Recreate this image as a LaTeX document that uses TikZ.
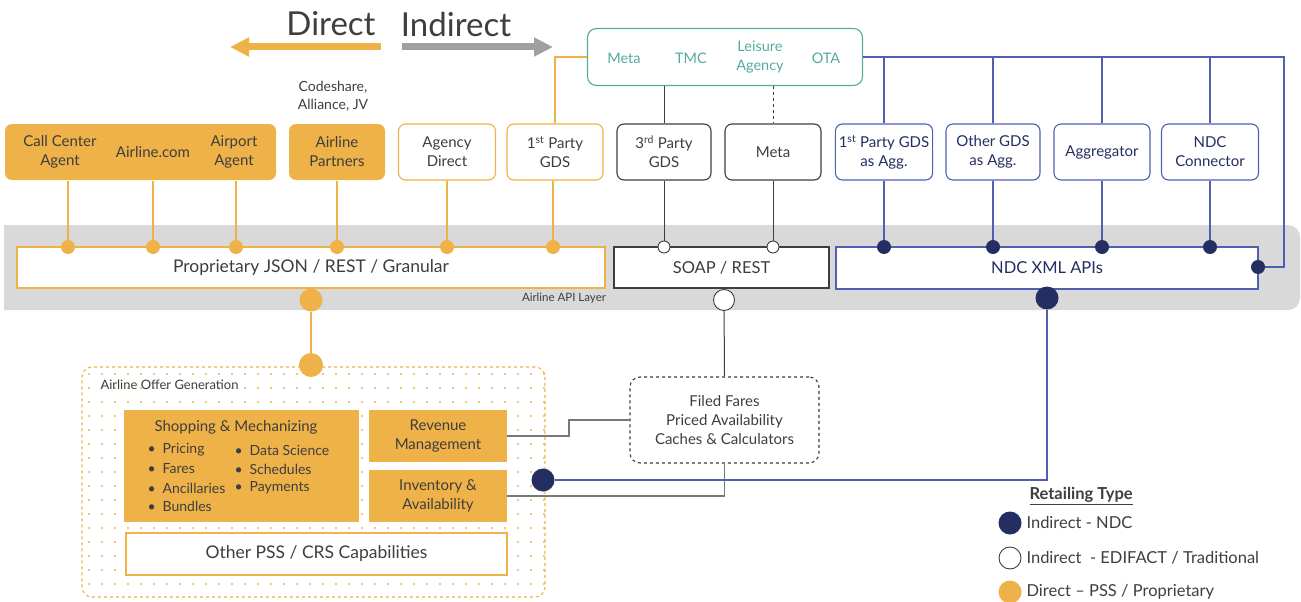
\documentclass[tikz,border=0pt]{standalone}
\usepackage{fontspec}
\setmainfont{Lato}
\usetikzlibrary{arrows.meta}
\definecolor{dirorange}{RGB}{238,178,72}
\definecolor{ndcnavy}{RGB}{36,46,96}
\definecolor{ndcblue}{RGB}{78,96,176}
\definecolor{metateal}{RGB}{84,170,158}
\definecolor{bandgray}{RGB}{217,217,217}
\definecolor{inkgray}{RGB}{62,62,62}
\definecolor{arrowgray}{RGB}{160,160,160}
\definecolor{cachegray}{RGB}{120,120,120}
\newcommand{\fsz}[2]{\fontsize{#1}{#2}\selectfont}
\tikzset{direct/.style={draw=dirorange, line width=1.1pt}}
\tikzset{indirect/.style={draw=inkgray, line width=1pt}}
\tikzset{ndc/.style={draw=ndcblue, line width=1.1pt}}
\tikzset{cache/.style={draw=cachegray, line width=1.6pt}}
\tikzset{channel/.style={rounded corners=7pt, line width=1.1pt, minimum height=56pt, align=center}}
\tikzset{pdot/.style={circle, fill=dirorange, inner sep=0pt, minimum size=14pt}}
\tikzset{ndot/.style={circle, fill=ndcnavy, inner sep=0pt, minimum size=14pt}}
\tikzset{wdot/.style={circle, fill=white, draw=inkgray, line width=0.9pt, inner sep=0pt, minimum size=12pt}}

\begin{document}
\begin{tikzpicture}[x=1pt, y=-1pt]
	% Default action for each node
	\tikzstyle{every node}=[text=inkgray, font=\fsz{15}{19}];
	\useasboundingbox (0,0) rectangle (1301,602);

	% Direct / Indirect
	\node[font=\fsz{33}{37}] (direct label) at (331,24) {Direct};
	\node[font=\fsz{33}{37}] (indirect label) at (456,24) {Indirect};
	\coordinate (direct tail) at (381,47);		\coordinate (direct tip) at (230,47);
	\coordinate (indirect tail) at (402,47);	\coordinate (indirect tip) at (553,47);
	\draw[line width=7pt, dirorange, -{Triangle[length=19pt,width=18pt]}] (direct tail) -- (direct tip);
	\draw[line width=7pt, arrowgray, -{Triangle[length=19pt,width=18pt]}] (indirect tail) -- (indirect tip);

	% Agencies
	\node[draw=metateal, rounded corners=9pt, line width=1.1pt, minimum width=275pt, minimum height=57pt] (agencies) at (725,57) {};
	\node[text=metateal, font=\fsz{14.5}{19}] (meta) at (624,58) {Meta};
	\node[text=metateal, font=\fsz{14.5}{19}] (tmc) at (691,58) {TMC};
	\node[text=metateal, font=\fsz{14.5}{19}, align=center] (leisure) at (760,57) {Leisure\\Agency};
	\node[text=metateal, font=\fsz{14.5}{19}] (ota) at (826,58) {OTA};

	% Direct channels
	\node[font=\fsz{14}{18}, align=center] (codeshare) at (333,96) {Codeshare,\\Alliance, JV};
	\node[channel, fill=dirorange, minimum width=271pt] (dirgroup) at (140.5,152) {};
	\node[align=center] (callcenter) at (60,152) {Call Center\\Agent};
	\node (airlinecom) at (153,152) {Airline.com};
	\node[align=center] (airport) at (234,152) {Airport\\Agent};
	\node[channel, fill=dirorange, minimum width=96pt] (partners) at (337,152) {Airline\\Partners};
	\node[channel, draw=dirorange, fill=white, minimum width=97pt] (agency) at (447,152) {Agency\\Direct};
	\node[channel, draw=dirorange, fill=white, minimum width=96pt] (gds1) at (555,152) {1\textsuperscript{st} Party\\GDS};

	% Indirect channels
	\node[channel, draw=inkgray, fill=white, minimum width=94pt] (gds3) at (664,152) {3\textsuperscript{rd} Party\\GDS};
	\node[channel, draw=inkgray, fill=white, minimum width=96pt] (metabox) at (773,152) {Meta};
	\node[channel, draw=ndcblue, fill=white, minimum width=97pt, text=ndcnavy] (agg1) at (884,152) {1\textsuperscript{st} Party GDS\\as Agg.};
	\node[channel, draw=ndcblue, fill=white, minimum width=94pt, text=ndcnavy] (agg2) at (993,152) {Other GDS\\as Agg.};
	\node[channel, draw=ndcblue, fill=white, minimum width=96pt, text=ndcnavy] (agg3) at (1102,152) {Aggregator};
	\node[channel, draw=ndcblue, fill=white, minimum width=97pt, text=ndcnavy] (agg4) at (1210,152) {NDC\\Connector};

	% API layer
	\fill[bandgray] (4,225) [rounded corners=12pt] -- (1300,225) -- (1300,310) [sharp corners] -- (4,310) -- cycle;
	\node[draw=dirorange, fill=white, line width=1.1pt, minimum width=588pt, minimum height=41pt, font=\fsz{17.5}{20}] (json) at (311,267.5) {Proprietary JSON / REST / Granular};
	\node[draw=inkgray, fill=white, line width=1.3pt, minimum width=215pt, minimum height=41pt, font=\fsz{16.5}{20}] (soap) at (721.5,267.5) {SOAP / REST};
	\node[draw=ndcblue, fill=white, line width=1.1pt, minimum width=422pt, minimum height=42pt, font=\fsz{16.5}{20}, text=ndcnavy] (ndcapi) at (1047,268) {NDC XML APIs};
	\node[font=\fsz{11.5}{13}] (apilayer) at (564,298) {Airline API Layer};

	\node[pdot] (pd1) at (68,247) {};	\node[pdot] (pd2) at (153,247) {};	\node[pdot] (pd3) at (236,247) {};
	\node[pdot] (pd4) at (337,247) {};	\node[pdot] (pd5) at (447,247) {};	\node[pdot] (pd6) at (553,247) {};
	\node[wdot] (sd1) at (664,247) {};	\node[wdot] (sd2) at (773,247) {};
	\node[ndot] (nd1) at (884,247) {};	\node[ndot] (nd2) at (993,247) {};	\node[ndot] (nd3) at (1102,247) {};
	\node[ndot] (nd4) at (1210,247) {};	\node[ndot] (nd5) at (1258,267) {};
	\node[pdot, minimum size=23pt] (pbig) at (311,300) {};
	\node[wdot, minimum size=21pt] (wbig) at (724,300) {};
	\node[ndot, minimum size=23pt] (nbig) at (1047,298) {};

	% Offer generation
	\node[draw=dirorange, dashed, rounded corners=10pt, line width=1.1pt, minimum width=463pt, minimum height=230pt] (offer) at (313.5,482) {};
	\begin{scope}
		\clip[rounded corners=10pt] (offer.south west) rectangle (offer.north east);
		\foreach \x in {89,102,...,545}
			\foreach \y in {374,388,...,597}
				\fill[dirorange] (\x,\y) circle (1.2pt);
	\end{scope}
	\node[pdot, minimum size=24pt] (offerdot) at (311,365) {};
	\node[anchor=west, font=\fsz{13}{16}] (offerlabel) at (97,385) {Airline Offer Generation};

	\node[fill=dirorange, minimum width=235pt, minimum height=112pt] (shopping) at (241.5,466) {};
	\node (shoptitle) at (236,427) {Shopping \& Mechanizing};
	\foreach \item/\y [count=\i] in {Pricing/450, Fares/469, Ancillaries/488, Bundles/506}
		\node[anchor=west, font=\fsz{14}{17}] (bl\i) at (144,\y) {\textbullet\hspace{7pt}\item};
	\foreach \item/\y [count=\i] in {Data Science/450, Schedules/469, Payments/488}
		\node[anchor=west, font=\fsz{14}{17}] (br\i) at (231,\y) {\textbullet\hspace{7pt}\item};
	\node[fill=dirorange, minimum width=138pt, minimum height=52pt, align=center] (revenue) at (438,436) {Revenue\\Management};
	\node[fill=dirorange, minimum width=138pt, minimum height=52pt, align=center] (inventory) at (438,496) {Inventory \&\\Availability};
	\node[draw=dirorange, fill=white, line width=1.1pt, minimum width=381pt, minimum height=42pt, font=\fsz{17.5}{20}] (otherpss) at (316.5,554) {Other PSS / CRS Capabilities};

	% Filed fares
	\node[draw=inkgray, dashed, rounded corners=10pt, line width=1.1pt, minimum width=189pt, minimum height=86pt, align=center, font=\fsz{15}{19}] (filed) at (724.5,420) {Filed Fares\\Priced Availability\\Caches \& Calculators};
	\coordinate (filed bend) at (569,420);

	% Legend
	\node[anchor=west, font=\bfseries\fsz{16.5}{19}] (legendtitle) at (1026,496) {\underline{Retailing Type}};
	\node[ndot, minimum size=23pt] (lg1) at (1010,523) {};
	\node[wdot, minimum size=22pt] (lg2) at (1010,558) {};
	\node[pdot, minimum size=23pt] (lg3) at (1010,592) {};
	\node[anchor=west, font=\fsz{16.5}{19}] (lt1) at (1023,522) {Indirect - NDC};
	\node[anchor=west, font=\fsz{16.5}{19}] (lt2) at (1023,558) {Indirect \ - EDIFACT / Traditional};
	\node[anchor=west, font=\fsz{16.5}{19}] (lt3) at (1023,592) {Direct – PSS / Proprietary};

	% Direct lines
	\draw[direct] (agencies.west) -| (gds1.north);
	\draw[direct] (pd1 |- dirgroup.south) -- (pd1);
	\draw[direct] (pd2 |- dirgroup.south) -- (pd2);
	\draw[direct] (pd3 |- dirgroup.south) -- (pd3);
	\draw[direct] (partners.south) -- (pd4);
	\draw[direct] (agency.south) -- (pd5);
	\draw[direct] (pd6 |- gds1.south) -- (pd6);
	\draw[direct] (pbig) -- (offerdot);

	% Indirect lines
	\draw[indirect] (gds3.north |- agencies.south) -- (gds3.north);
	\draw[indirect] (gds3.south) -- (sd1);
	\draw[indirect, dashed] (metabox.north |- agencies.south) -- (metabox.north);
	\draw[indirect] (metabox.south) -- (sd2);
	\draw[indirect] (wbig) -- (filed.north);
	\draw[cache] (filed.west) -- (filed bend) |- (revenue.east);
	\draw[cache] (filed.south) |- (inventory.east);

	% NDC lines
	\coordinate (ndc east) at (1284,267);
	\draw[ndc] (agencies.east) -| (ndc east) -- (nd5);
	\draw[ndc] (agg1.north |- agencies.east) -- (agg1.north);
	\draw[ndc] (agg2.north |- agencies.east) -- (agg2.north);
	\draw[ndc] (agg3.north |- agencies.east) -- (agg3.north);
	\draw[ndc] (agg4.north |- agencies.east) -- (agg4.north);
	\draw[ndc] (agg1.south) -- (nd1);
	\draw[ndc] (agg2.south) -- (nd2);
	\draw[ndc] (agg3.south) -- (nd3);
	\draw[ndc] (agg4.south) -- (nd4);
	\node[ndot, minimum size=23pt] (ndcdot) at (543,480) {};
	\draw[ndc] (nbig) |- (ndcdot);
\end{tikzpicture}
\end{document}
